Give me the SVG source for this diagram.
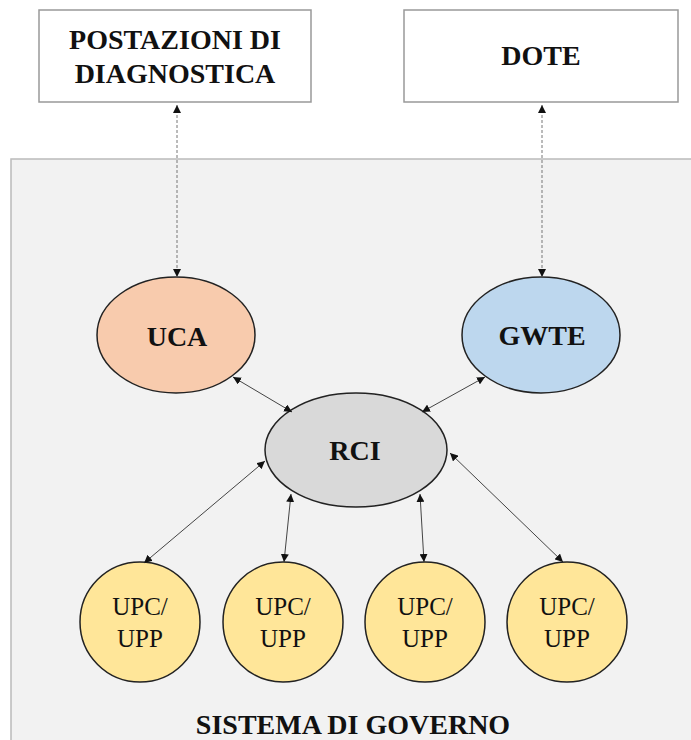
<svg xmlns="http://www.w3.org/2000/svg" width="691" height="740" viewBox="0 0 691 740">
<defs>
<marker id="ah" viewBox="0 0 10 10" refX="10" refY="5" markerWidth="8" markerHeight="8" markerUnits="userSpaceOnUse" orient="auto-start-reverse">
<path d="M0,0 L10,5 L0,10 z" fill="#111"/>
</marker>
<style>
.box{fill:#fff;stroke:#999;stroke-width:1.5}
.ell{stroke:#222;stroke-width:1.5}
.bt{font-family:"Liberation Serif","Times New Roman",serif;font-weight:bold;font-size:28px;fill:#111;text-anchor:middle}
.rt{font-family:"Liberation Serif","Times New Roman",serif;font-size:25px;fill:#111;text-anchor:middle}
.dash{stroke:#777;stroke-width:1;stroke-dasharray:3,2;fill:none;marker-start:url(#ah);marker-end:url(#ah)}
.sol{stroke:#444;stroke-width:1;fill:none;marker-start:url(#ah);marker-end:url(#ah)}
</style>
</defs>
<rect id="sistema" x="11" y="159" width="690" height="590" fill="#F2F2F2" stroke="#BBB" stroke-width="1.5"/>
<text class="bt" x="353" y="734" font-size="27">SISTEMA DI GOVERNO</text>
<g id="postazioni">
<rect class="box" x="39" y="10" width="272" height="92"/>
<text class="bt" x="175" y="49">POSTAZIONI DI</text>
<text class="bt" x="175" y="83">DIAGNOSTICA</text>
</g>
<g id="dote">
<rect class="box" x="404" y="10" width="274" height="92"/>
<text class="bt" x="541" y="65">DOTE</text>
</g>
<g id="uca">
<ellipse class="ell" cx="176" cy="335" rx="79" ry="58" fill="#F8CBAD"/>
<text class="bt" x="177" y="346">UCA</text>
</g>
<g id="gwte">
<ellipse class="ell" cx="541" cy="335" rx="79" ry="58" fill="#BDD7EE"/>
<text class="bt" x="542" y="345">GWTE</text>
</g>
<g id="rci">
<ellipse class="ell" cx="356" cy="450" rx="91" ry="57" fill="#D9D9D9"/>
<text class="bt" x="355" y="460" font-size="27">RCI</text>
</g>
<g id="upc1">
<circle class="ell" cx="140" cy="622" r="60" fill="#FFE699"/>
<text class="rt" x="140" y="615">UPC/</text>
<text class="rt" x="140" y="647">UPP</text>
</g>
<g id="upc2">
<circle class="ell" cx="283" cy="622" r="60" fill="#FFE699"/>
<text class="rt" x="283" y="615">UPC/</text>
<text class="rt" x="283" y="647">UPP</text>
</g>
<g id="upc3">
<circle class="ell" cx="425" cy="622" r="60" fill="#FFE699"/>
<text class="rt" x="425" y="615">UPC/</text>
<text class="rt" x="425" y="647">UPP</text>
</g>
<g id="upc4">
<circle class="ell" cx="567" cy="622" r="60" fill="#FFE699"/>
<text class="rt" x="567" y="615">UPC/</text>
<text class="rt" x="567" y="647">UPP</text>
</g>
<g id="connectors">
<line class="dash" x1="177" y1="105" x2="177" y2="277"/>
<line class="dash" x1="542" y1="105" x2="542" y2="277"/>
<line class="sol" x1="233" y1="377" x2="292" y2="412"/>
<line class="sol" x1="485" y1="377" x2="422" y2="412"/>
<line class="sol" x1="265" y1="461" x2="144" y2="563"/>
<line class="sol" x1="291" y1="494" x2="284" y2="562"/>
<line class="sol" x1="420" y1="494" x2="424" y2="562"/>
<line class="sol" x1="450" y1="453" x2="563" y2="562"/>
</g>
</svg>
